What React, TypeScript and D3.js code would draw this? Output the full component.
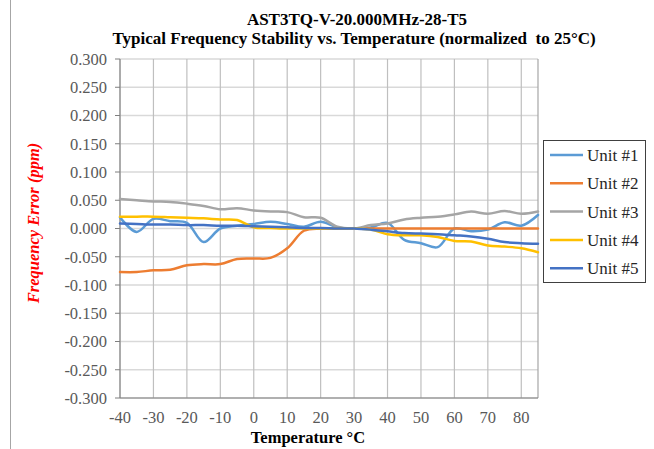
import React from "react";
import * as d3 from "d3";

const temperatures = [-40, -35, -30, -25, -20, -15, -10, -5, 0, 5, 10, 15, 20, 25, 30, 35, 40, 45, 50, 55, 60, 65, 70, 75, 80, 85];

const unit1 = [0.020, -0.006, 0.017, 0.013, 0.010, -0.024, 0.000, 0.005, 0.008, 0.012, 0.008, 0.003, 0.012, 0.002, 0.000, 0.002, 0.010, -0.020, -0.026, -0.033, 0.000, -0.005, -0.002, 0.011, 0.005, 0.024];
const unit2 = [-0.077, -0.077, -0.074, -0.073, -0.065, -0.063, -0.063, -0.054, -0.053, -0.052, -0.035, -0.004, 0.000, 0.000, 0.000, 0.000, 0.000, 0.000, 0.000, 0.000, 0.000, 0.000, 0.000, 0.000, 0.000, 0.000];
const unit3 = [0.052, 0.050, 0.048, 0.047, 0.044, 0.040, 0.034, 0.036, 0.032, 0.030, 0.029, 0.020, 0.019, 0.003, 0.000, 0.006, 0.009, 0.016, 0.019, 0.021, 0.025, 0.030, 0.026, 0.031, 0.026, 0.030];
const unit4 = [0.021, 0.021, 0.021, 0.020, 0.019, 0.018, 0.016, 0.015, 0.002, 0.001, 0.000, 0.000, 0.000, 0.000, 0.000, -0.002, -0.010, -0.012, -0.012, -0.015, -0.022, -0.023, -0.030, -0.032, -0.035, -0.042];
const unit5 = [0.009, 0.008, 0.007, 0.007, 0.006, 0.006, 0.005, 0.005, 0.004, 0.003, 0.002, 0.001, 0.001, 0.000, 0.000, -0.002, -0.005, -0.008, -0.009, -0.010, -0.012, -0.014, -0.018, -0.024, -0.026, -0.027];

const seriesNames = ["Unit #1", "Unit #2", "Unit #3", "Unit #4", "Unit #5"];
const seriesColors = ["#5B9BD5", "#ED7D31", "#A5A5A5", "#FFC000", "#4472C4"];
const seriesValues = [unit1, unit2, unit3, unit4, unit5];

const xTicks = [-40, -30, -20, -10, 0, 10, 20, 30, 40, 50, 60, 70, 80];
const yTicks = [0.3, 0.25, 0.2, 0.15, 0.1, 0.05, 0, -0.05, -0.1, -0.15, -0.2, -0.25, -0.3];

const titleLine1 = "AST3TQ-V-20.000MHz-28-T5";
const titleLine2 = "Typical Frequency Stability vs. Temperature (normalized  to 25°C)";
const xTitle = "Temperature °C";
const yTitle = "Frequency Error (ppm)";

export default function App() {
  const W = 654, H = 449;
  const left = 120, right = 538, top = 59, bottom = 398;
  const x = d3.scaleLinear().domain([-40, 85]).range([left, right]);
  const y = d3.scaleLinear().domain([-0.3, 0.3]).range([bottom, top]);
  const line = d3
    .line<number>()
    .x((_, i) => x(temperatures[i]))
    .y((d) => y(d))
    .curve(d3.curveCatmullRom.alpha(0.5));
  const ff = "Liberation Serif";
  const ts = { fontFamily: ff } as React.CSSProperties;
  const legX = 543, legY = 140, legW = 102, legH = 142;

  return (
    <svg width={W} height={H} style={{ position: "absolute", left: 0, top: 0, background: "#fff" }}>
      <rect x={0} y={0} width={W} height={H} fill="#fff" />
      <line x1={10.5} x2={10.5} y1={0} y2={H} stroke="#a6a6a6" strokeWidth={1} />
      <text x={357} y={25} textAnchor="middle" fontSize={17} fontWeight="bold" fill="#000" style={ts}>{titleLine1}</text>
      <text x={354} y={44} textAnchor="middle" fontSize={17} fontWeight="bold" fill="#000" style={{ ...ts, whiteSpace: "pre" }}>{titleLine2}</text>

      {yTicks.map((t) => (
        <line key={"hg" + t} x1={left} x2={right} y1={y(t)} y2={y(t)} stroke="#d9d9d9" strokeWidth={1.3} />
      ))}
      {xTicks.map((t) => (
        <line key={"vg" + t} x1={x(t)} x2={x(t)} y1={top} y2={bottom} stroke="#bfbfbf" strokeWidth={1.2} />
      ))}
      <line x1={right} x2={right} y1={top} y2={bottom} stroke="#a6a6a6" strokeWidth={1.2} />

      <line x1={left} x2={left} y1={top} y2={bottom} stroke="#7f7f7f" strokeWidth={1} />
      <line x1={left} x2={right} y1={bottom} y2={bottom} stroke="#7f7f7f" strokeWidth={1} />
      {yTicks.map((t) => (
        <line key={"yt" + t} x1={left - 5} x2={left} y1={y(t)} y2={y(t)} stroke="#7f7f7f" strokeWidth={1} />
      ))}

      {yTicks.map((t) => (
        <text key={"yl" + t} x={107} y={y(t)} dy="0.35em" textAnchor="end" fontSize={16.5} fill="#595959" style={ts}>
          {d3.format(".3f")(t).replace("−", "-")}
        </text>
      ))}
      {xTicks.map((t) => (
        <text key={"xl" + t} x={x(t)} y={423} textAnchor="middle" fontSize={16.5} fill="#595959" style={ts}>
          {String(t)}
        </text>
      ))}

      <text x={308} y={443} textAnchor="middle" fontSize={16.5} fontWeight="bold" fill="#000" style={ts}>{xTitle}</text>
      <text transform={`translate(39,223) rotate(-90)`} textAnchor="middle" fontSize={16.5} fontWeight="bold" fontStyle="italic" fill="#ff0000" style={ts}>{yTitle}</text>

      {seriesValues.map((vals, i) => (
        <path key={"s" + i} d={line(vals) || ""} fill="none" stroke={seriesColors[i]} strokeWidth={2.5} strokeLinejoin="round" strokeLinecap="round" />
      ))}

      <rect x={legX + 0.5} y={legY + 0.5} width={legW} height={legH} fill="#fff" stroke="#404040" strokeWidth={1} />
      {seriesNames.map((n, i) => {
        const cy = 155 + i * 28.3;
        return (
          <g key={"lg" + i}>
            <line x1={550} x2={583} y1={cy} y2={cy} stroke={seriesColors[i]} strokeWidth={2.5} />
            <text x={587} y={cy} dy="0.35em" fontSize={17} fill="#262626" style={ts}>{n}</text>
          </g>
        );
      })}
    </svg>
  );
}
